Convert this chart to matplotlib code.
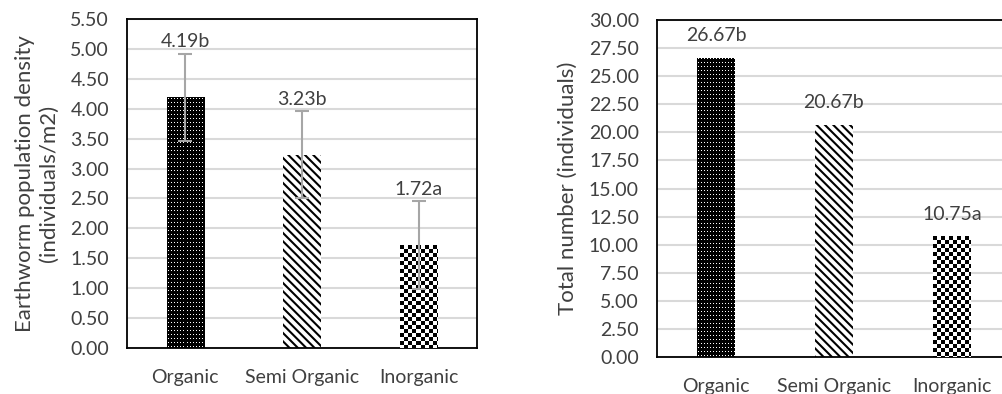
import numpy as np
import matplotlib.pyplot as plt

plt.rcParams["font.family"] = ["Lato", "DejaVu Sans"]
plt.rcParams["hatch.linewidth"] = 1.5

categories = ["Organic", "Semi Organic", "Inorganic"]

density = [4.19, 3.23, 1.72]
density_err = [0.73, 0.73, 0.73]
density_labels = ["4.19b", "3.23b", "1.72a"]

total = [26.67, 20.67, 10.75]
total_labels = ["26.67b", "20.67b", "10.75a"]

# pixel tiles for the bar textures (0 = black, 1 = white)
dot_tile = np.zeros((4, 3))
dot_tile[1, 1] = 1
checker_tile = np.kron([[0, 1], [1, 0]], np.ones((4, 4)))

fig = plt.figure(figsize=(10.03, 3.94), dpi=100)
ax1 = fig.add_axes([0.1266, 0.1168, 0.349, 0.835])
ax2 = fig.add_axes([0.655, 0.0939, 0.353, 0.855])


def texture_fill(ax, bar, tile):
    # repeat a pixel tile over the bar and clip it to the bar shape
    x0, y0 = bar.get_x(), bar.get_y()
    x1, y1 = x0 + bar.get_width(), y0 + bar.get_height()
    p0 = ax.transData.transform((x0, y0))
    p1 = ax.transData.transform((x1, y1))
    nx = max(1, int(round(abs(p1[0] - p0[0]))))
    ny = max(1, int(round(abs(p1[1] - p0[1]))))
    reps = (ny // tile.shape[0] + 1, nx // tile.shape[1] + 1)
    img = np.tile(tile, reps)[:ny, :nx]
    im = ax.imshow(img, cmap="gray", vmin=0, vmax=1, extent=(x0, x1, y0, y1),
                   aspect="auto", interpolation="nearest", zorder=3,
                   origin="upper")
    im.set_clip_path(bar)


def style_axes(ax, ymax, step):
    ax.set_ylim(0, ymax)
    ax.set_yticks(np.arange(0, ymax + step / 2, step))
    ax.yaxis.set_major_formatter(plt.FuncFormatter(lambda v, p: f"{v:.2f}"))
    ax.set_xlim(-0.5, len(categories) - 0.5)
    ax.set_xticks(range(len(categories)))
    ax.set_xticklabels(categories)
    ax.tick_params(axis="both", length=0, labelsize=14, colors="#404040")
    ax.tick_params(axis="x", pad=15)
    ax.tick_params(axis="y", pad=13)
    ax.grid(axis="y", color="#d9d9d9", lw=1.5, zorder=0)
    ax.set_axisbelow(True)
    for s in ax.spines.values():
        s.set_color("black")
        s.set_linewidth(1.3)


def draw_bars(ax, values):
    x = np.arange(len(categories))
    bars = ax.bar(x, values, width=0.32, zorder=2, linewidth=0)
    bars[0].set_facecolor("black")
    # semi organic: diagonal stripes
    bars[1].set_facecolor("white")
    bars[1].set_edgecolor("black")
    bars[1].set_hatch("\\\\\\\\")
    bars[2].set_facecolor("white")
    texture_fill(ax, bars[0], dot_tile)
    texture_fill(ax, bars[2], checker_tile)
    return bars


# ---------------- left panel ----------------
style_axes(ax1, 5.5, 0.5)
draw_bars(ax1, density)
ax1.errorbar(range(len(categories)), density, yerr=density_err, fmt="none",
             ecolor="#a6a6a6", elinewidth=1.5, capsize=5, capthick=1.5, zorder=4)
for i, (v, e, lab) in enumerate(zip(density, density_err, density_labels)):
    ax1.annotate(lab, (i, v + e), xytext=(0, 12), textcoords="offset pixels",
                 ha="center", va="center", fontsize=14, color="#404040")
ax1.set_ylabel("Earthworm population density\n(individuals/m2)",
               fontsize=16, color="#404040", labelpad=8, linespacing=1.25)

# ---------------- right panel ----------------
style_axes(ax2, 30, 2.5)
draw_bars(ax2, total)
for i, (v, lab) in enumerate(zip(total, total_labels)):
    ax2.annotate(lab, (i, v), xytext=(0, 22), textcoords="offset pixels",
                 ha="center", va="center", fontsize=14, color="#404040")
ax2.set_ylabel("Total number (individuals)", fontsize=16, color="#404040",
               labelpad=8)

fig.savefig("out.png", dpi=100)
plt.close(fig)
